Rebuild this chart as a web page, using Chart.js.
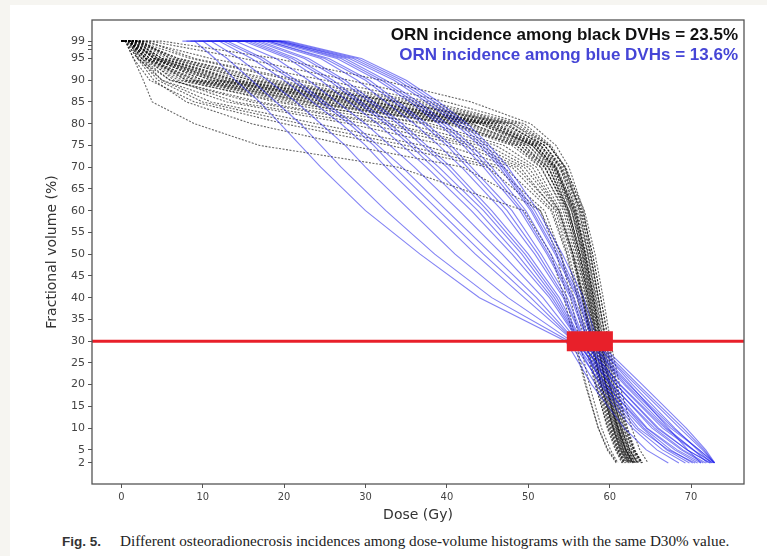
<!DOCTYPE html>
<html>
<head>
<meta charset="utf-8">
<title>ORN DVH</title>
<script src="https://cdn.jsdelivr.net/npm/chart.js@4.4.1/dist/chart.umd.min.js"></script>
<style>
  html, body { margin: 0; padding: 0; background: #f6f5f1; }
  body { width: 767px; height: 556px; position: relative; overflow: hidden; }
  .card { position: absolute; left: 10px; top: 5px; right: 0; bottom: 0; background: #fff; }
  #wrap { position: absolute; left: 0; top: 0; width: 767px; height: 530px; }
  .caption { position: absolute; left: 62px; top: 532px; font: 15.2px "Liberation Serif", "Times New Roman", serif; color: #222; white-space: nowrap; }
  .caption b { font: bold 13.5px "Liberation Sans", Arial, sans-serif; color: #333; margin-right: 19px; }
</style>
</head>
<body>
<div class="card"></div>
<div id="wrap"><canvas id="dvhChart"></canvas></div>
<div class="caption"><b>Fig. 5.</b>Different osteoradionecrosis incidences among dose-volume histograms with the same D30% value.</div>

<script>
// Volume levels (%) at which each DVH dose is listed.
// The first 99 is where the curve starts, the second where it leaves 99%.
const volumeLevels = [99, 99, 95, 90, 85, 80, 75, 70, 60, 50, 40, 30, 20, 10, 5, 2];

// Dose (Gy) of each black DVH at the volume levels above
const blackDoses = [
    [0, 5, 19, 32, 43, 50.3, 53.4, 55.0, 56.8, 57.7, 58.6, 59.5, 60.5, 61.8, 62.8, 63.8],
    [0, 3.5, 15, 28, 40, 49.5, 52.8, 54.5, 56.3, 57.3, 58.2, 59.1, 60.1, 61.4, 62.4, 63.4],
    [0, 2.5, 11, 25, 38, 49, 52.6, 54.4, 56.5, 57.6, 58.6, 59.6, 60.7, 62.0, 63.0, 64.0],
    [0, 2, 8.5, 21, 36, 48, 52, 53.9, 55.9, 57.0, 58.0, 58.9, 59.9, 61.2, 62.2, 63.1],
    [0, 1.5, 7, 19, 35, 47.5, 51.6, 53.4, 55.4, 56.6, 57.6, 58.5, 59.5, 60.8, 61.7, 62.6],
    [0, 1.5, 5, 15, 32, 46, 51, 53.1, 55.3, 56.6, 57.6, 58.5, 59.5, 60.9, 61.9, 62.8],
    [0, 1, 4.5, 13, 30, 45, 50.5, 52.8, 55.0, 56.3, 57.3, 58.2, 59.2, 60.5, 61.4, 62.3],
    [0, 1.2, 4, 12, 29, 44, 50, 52.5, 54.8, 56.1, 57.2, 58.1, 59.2, 60.6, 61.6, 62.6],
    [0, 2, 5.5, 14, 31, 45.5, 51.3, 53.5, 55.8, 57.0, 58.0, 58.9, 60.0, 61.3, 62.2, 63.1],
    [0, 1, 3.5, 11, 27, 43, 49.5, 52.1, 54.6, 55.9, 57.0, 57.9, 59.0, 60.4, 61.3, 62.1],
    [0, 1.5, 4, 10, 25, 42, 49, 52, 54.8, 56.2, 57.3, 58.3, 59.4, 60.8, 61.7, 62.5],
    [0, 1, 3, 9, 24, 41, 48.5, 51.6, 54.3, 55.7, 56.8, 57.8, 58.9, 60.3, 61.2, 62.0],
    [0, 2, 4.5, 12, 28, 44.5, 50.5, 53, 55.5, 56.8, 57.8, 58.8, 59.9, 61.4, 62.4, 63.5],
    [0, 1, 3.5, 8, 22, 40, 48, 51.5, 54.5, 56.0, 57.1, 58.1, 59.3, 60.7, 61.6, 62.4],
    [0, 0.6, 2.5, 7, 20, 38, 47, 51, 54.0, 55.5, 56.7, 57.7, 58.8, 60.2, 61.1, 61.9],
    [0, 1.5, 4, 10, 26, 43, 50, 52.8, 55.3, 56.7, 57.7, 58.6, 59.6, 61.0, 61.9, 62.8],
    [0, 1, 3, 8, 21, 37, 46, 50.5, 53.8, 55.4, 56.6, 57.6, 58.7, 60.1, 61.0, 61.8],
    [0, 2.5, 6, 16, 33, 46.5, 51.5, 53.8, 56.0, 57.3, 58.3, 59.2, 60.3, 61.7, 62.7, 63.6],
    [0, 1, 3.5, 9, 23, 41, 49, 52.5, 55.0, 56.4, 57.5, 58.5, 59.6, 61.0, 62.0, 62.9],
    [0, 1, 4, 11, 27, 44, 50.5, 53.2, 55.6, 56.9, 57.9, 58.8, 59.8, 61.1, 62.0, 62.8],
    [0, 1.2, 4.2, 11.5, 28, 44.5, 50.8, 53.3, 55.7, 57.0, 58.0, 58.9, 60.0, 61.4, 62.3, 63.2],
    [0, 0.8, 3.2, 9.5, 25, 42.5, 49.5, 52.4, 55.0, 56.4, 57.4, 58.4, 59.5, 60.9, 61.8, 62.7],
    [0, 1.8, 5, 13.5, 30.5, 45.5, 51, 53.3, 55.6, 56.8, 57.8, 58.7, 59.7, 61.1, 62.0, 62.9],
    [0, 1, 3, 8.5, 23, 40.5, 48.5, 52, 54.9, 56.3, 57.4, 58.4, 59.5, 61.0, 62.0, 63.0],
    [0, 2.2, 6.5, 17, 34, 47, 52, 54, 56.2, 57.4, 58.4, 59.3, 60.3, 61.6, 62.5, 63.4],
    [0, 1.3, 4.5, 12.5, 29, 45, 50.8, 53.4, 55.8, 57.1, 58.1, 59.0, 60.1, 61.5, 62.5, 63.4],
    // lower group, leaving the plateau early
    [0, 1, 2.5, 6, 16, 32, 43, 49, 53.3, 55.0, 56.3, 57.4, 58.6, 60.0, 61.0, 61.8],
    [0, 0.5, 2, 5, 13, 28, 40, 48, 53.0, 54.8, 56.1, 57.2, 58.4, 59.9, 60.9, 61.7],
    [0, 1, 2.5, 5, 11, 24, 37, 47, 52.8, 54.7, 56.0, 57.1, 58.3, 59.7, 60.7, 61.5],
    [0, 0.5, 1.5, 3.5, 9, 20, 33, 45, 51.5, 53.5, 54.7, 55.8, 57.1, 58.6, 59.7, 60.8],
    [0, 0.5, 1.5, 2.7, 3.8, 9, 17, 34, 49.5, 52.8, 54.4, 55.6, 57.0, 58.6, 59.8, 60.9],
    [0, 1, 2, 4, 8, 16, 28, 42, 51.5, 54.0, 55.6, 56.9, 58.2, 59.8, 60.8, 61.6],
    [0, 1, 3, 6.5, 14, 30, 42, 48.5, 53.5, 55.3, 56.6, 57.7, 58.9, 60.4, 61.4, 62.3],
    [0, 0.8, 2.2, 4.5, 10, 22, 35, 46, 52.0, 54.0, 55.2, 56.3, 57.5, 59.0, 60.1, 61.0],
    [0, 0.7, 2.8, 7.5, 19, 35, 45, 50, 53.8, 55.5, 56.7, 57.8, 59.0, 60.5, 61.5, 62.4],
    [0, 0.5, 2, 6, 17, 33, 44, 49.5, 53.7, 55.5, 56.8, 57.9, 59.0, 60.4, 61.3, 62.2],
    // late tails on the right of the bundle
    [0, 2, 6, 16, 34, 48, 52.5, 54.5, 56.9, 58.2, 59.2, 60.1, 61.2, 62.7, 63.7, 64.7],
    [0, 1.5, 5, 14, 31, 46, 51.5, 54, 56.6, 57.9, 58.9, 59.8, 60.8, 62.1, 63.0, 63.9],
    [0, 3, 9, 22, 37, 48.5, 52.5, 54.6, 56.7, 57.9, 58.9, 59.9, 60.9, 62.2, 63.1, 64.0],
    [0, 2, 7, 18, 34, 47, 52, 54.2, 56.4, 57.6, 58.6, 59.5, 60.5, 61.9, 62.9, 63.9]
];

// Dose (Gy) of each blue DVH at the volume levels above
const blueDoses = [
    [7.5, 9, 11.5, 14, 17, 19.5, 22, 24.5, 30, 36.7, 44, 54.6, 57.8, 61.8, 64.5, 67.2],
    [8, 10, 13, 16, 19, 22, 24.5, 27, 32.5, 38.5, 45.5, 55, 58.3, 62.8, 65.8, 68.5],
    [8.5, 11, 14.5, 18, 21.5, 24.5, 27.5, 30, 35.5, 41, 47.5, 55.3, 59, 64, 67, 69.8],
    [9, 12, 16, 20, 23.5, 27, 30, 32.5, 38, 43.5, 49.5, 55.6, 59.5, 64.5, 68, 70.8],
    [9.5, 12.5, 17, 21, 24.5, 28, 31, 33.5, 39, 44.5, 50.3, 55.7, 58.8, 63.2, 66.5, 69.3],
    [10, 13, 17.5, 21.5, 25, 28.5, 31.5, 34.5, 40, 45.5, 51, 55.8, 60.2, 65.5, 69, 71.8],
    [10.5, 14, 19, 23, 26.5, 30, 33, 36, 41.5, 46.8, 51.8, 56, 59.6, 64.2, 67.5, 70.2],
    [11, 15, 20.5, 24.5, 28, 31.5, 34.5, 37.5, 43, 48, 52.6, 56.2, 60.8, 66, 69.5, 72.3],
    [11.5, 15.5, 21, 25.5, 29, 32.5, 35.5, 38.3, 43.8, 48.6, 52.9, 56.3, 59.2, 63.5, 67.2, 70.5],
    [12, 16, 21.5, 26, 29.5, 33, 36, 39, 44.5, 49.2, 53.2, 56.4, 60.3, 65.2, 68.8, 71.5],
    [12.5, 16.5, 22.5, 27, 30.5, 34, 37, 40, 45, 49.6, 53.5, 56.5, 60, 64.6, 68.3, 71.2],
    [13, 17, 23, 27.5, 31, 34.5, 37.5, 40.5, 45.5, 50, 53.8, 56.6, 61.3, 66.8, 70.3, 72.7],
    [13.5, 17.5, 24.5, 29, 32.5, 36, 39, 41.8, 46.8, 50.8, 54.3, 56.8, 60.8, 65.8, 69.5, 72.4],
    [14, 18, 25, 30, 33.5, 37, 40, 42.5, 47.4, 51.2, 54.5, 56.9, 61.2, 66.5, 70.2, 72.6],
    [14.5, 18, 25.5, 30.5, 34, 37.5, 40.5, 43, 48, 51.6, 54.8, 57, 61.8, 67, 70.3, 72.0],
    [15, 18.5, 26.5, 31.5, 35.5, 39, 42, 44.5, 49, 52.3, 55.2, 57.3, 62.3, 67.8, 71, 72.8],
    [15.5, 19, 27, 32, 36, 39.5, 42.5, 45, 49.3, 52.5, 55.4, 57.4, 62, 67.5, 71, 72.9],
    [16, 19, 27.5, 32.5, 36.5, 40, 43, 45.5, 49.7, 52.8, 55.6, 57.6, 62.5, 67.2, 69.6, 71.2],
    [16.5, 19.5, 28, 33.5, 37.5, 41, 44, 46.5, 50.3, 53.3, 56, 57.9, 63.2, 68.6, 71.4, 72.9],
    [17, 19.5, 28.5, 34, 38, 41.5, 44.4, 46.8, 50.5, 53.5, 56.2, 58.0, 62.8, 68, 70.8, 72.5],
    [17.5, 20, 29, 34.5, 38.5, 42, 44.8, 47, 50.8, 53.8, 56.4, 58.2, 63.5, 69, 71.6, 72.8],
    [18, 20.5, 29.5, 35, 39, 42.5, 45.2, 47.5, 51.2, 54.2, 56.8, 58.5, 64, 69.4, 71.8, 72.9]
];

const xTicks = [0, 10, 20, 30, 40, 50, 60, 70];
const yTicks = [2, 5, 10, 15, 20, 25, 30, 35, 40, 45, 50, 55, 60, 65, 70, 75, 80, 85, 90, 95, 99];
const yMinorTicks = [97, 98];
const doseRange = [-3.6, 76.5];
const volumeRange = [-2.85, 103.85];

// D30 reference level and the band where the curves share it
const d30Volume = 30;
const d30BandDose = [54.7, 60.4];
const d30BandVolume = [27.7, 32.3];

const incidenceText = [
    "ORN incidence among black DVHs = 23.5%",
    "ORN incidence among blue DVHs = 13.6%"
];

const toPoints = doses => doses.map((d, i) => ({ x: d, y: volumeLevels[i] }));

const lineBase = {
    pointRadius: 0,
    fill: false,
    tension: 0
};

const datasets = [
    // red D30 band (two edges filled between)
    { data: d30BandDose.map(d => ({ x: d, y: d30BandVolume[0] })), borderWidth: 0, pointRadius: 0, fill: false },
    { data: d30BandDose.map(d => ({ x: d, y: d30BandVolume[1] })), borderWidth: 0, pointRadius: 0, fill: "-1", backgroundColor: "#e8202a" },
    // horizontal D30 line across the whole axis
    { data: doseRange.map(d => ({ x: d, y: d30Volume })), borderColor: "#e8202a", borderWidth: 3, pointRadius: 0, fill: false },
    ...blueDoses.map(d => ({ ...lineBase, data: toPoints(d), borderWidth: 1.1, borderColor: "rgba(30, 30, 235, 0.55)" })),
    ...blackDoses.map(d => ({ ...lineBase, data: toPoints(d), borderWidth: 1.1, borderColor: "rgba(0, 0, 0, 0.6)", borderDash: [2, 1.5] }))
];

// plot frame and the incidence labels
const framePlugin = {
    id: "frame",
    afterDraw(chart) {
        const { ctx, chartArea: a } = chart;
        ctx.save();
        ctx.strokeStyle = "#555";
        ctx.lineWidth = 1.3;
        ctx.strokeRect(a.left, a.top, a.right - a.left, a.bottom - a.top);

        ctx.textAlign = "right";
        ctx.textBaseline = "middle";
        ctx.font = "bold 17px 'Liberation Sans', Arial, sans-serif";
        ctx.fillStyle = "#111";
        ctx.fillText(incidenceText[0], a.right - 6, a.top + 15);
        ctx.fillStyle = "#4545d6";
        ctx.fillText(incidenceText[1], a.right - 6, a.top + 35);
        ctx.restore();
    }
};

const ctx = document.getElementById("dvhChart").getContext("2d");

new Chart(ctx, {
    type: "line",
    data: { datasets },
    options: {
        responsive: true,
        maintainAspectRatio: false,
        animation: false,
        events: [],
        layout: { padding: { left: 0, top: 20, right: 23, bottom: 0 } },
        plugins: {
            legend: { display: false },
            tooltip: { enabled: false }
        },
        scales: {
            x: {
                type: "linear",
                min: doseRange[0],
                max: doseRange[1],
                afterBuildTicks: s => { s.ticks = xTicks.map(v => ({ value: v })); },
                afterFit: s => { s.height = 46; },
                grid: { drawOnChartArea: false, drawTicks: true, tickLength: 4, color: "#555" },
                border: { display: false },
                ticks: {
                    autoSkip: false,
                    maxRotation: 0,
                    padding: 3,
                    color: "#444",
                    font: { family: "'DejaVu Sans Condensed', 'DejaVu Sans', sans-serif", size: 11 }
                },
                title: {
                    display: true,
                    text: "Dose (Gy)",
                    color: "#333",
                    padding: { top: 0, bottom: 6 },
                    font: { family: "'DejaVu Sans', sans-serif", size: 14 }
                }
            },
            y: {
                type: "linear",
                min: volumeRange[0],
                max: volumeRange[1],
                afterBuildTicks: s => { s.ticks = [...yTicks, ...yMinorTicks].map(v => ({ value: v })); },
                afterFit: s => { s.width = 92; },
                grid: { drawOnChartArea: false, drawTicks: true, tickLength: 4, color: "#555" },
                border: { display: false },
                ticks: {
                    autoSkip: false,
                    padding: 3,
                    color: "#444",
                    font: { family: "'DejaVu Sans', sans-serif", size: 11 },
                    callback: v => (yTicks.includes(v) ? String(v) : "")
                },
                title: {
                    display: true,
                    text: "Fractional volume (%)",
                    color: "#333",
                    padding: { top: 44, bottom: 0 },
                    font: { family: "'DejaVu Sans', sans-serif", size: 14 }
                }
            }
        }
    },
    plugins: [framePlugin]
});
</script>
</body>
</html>
